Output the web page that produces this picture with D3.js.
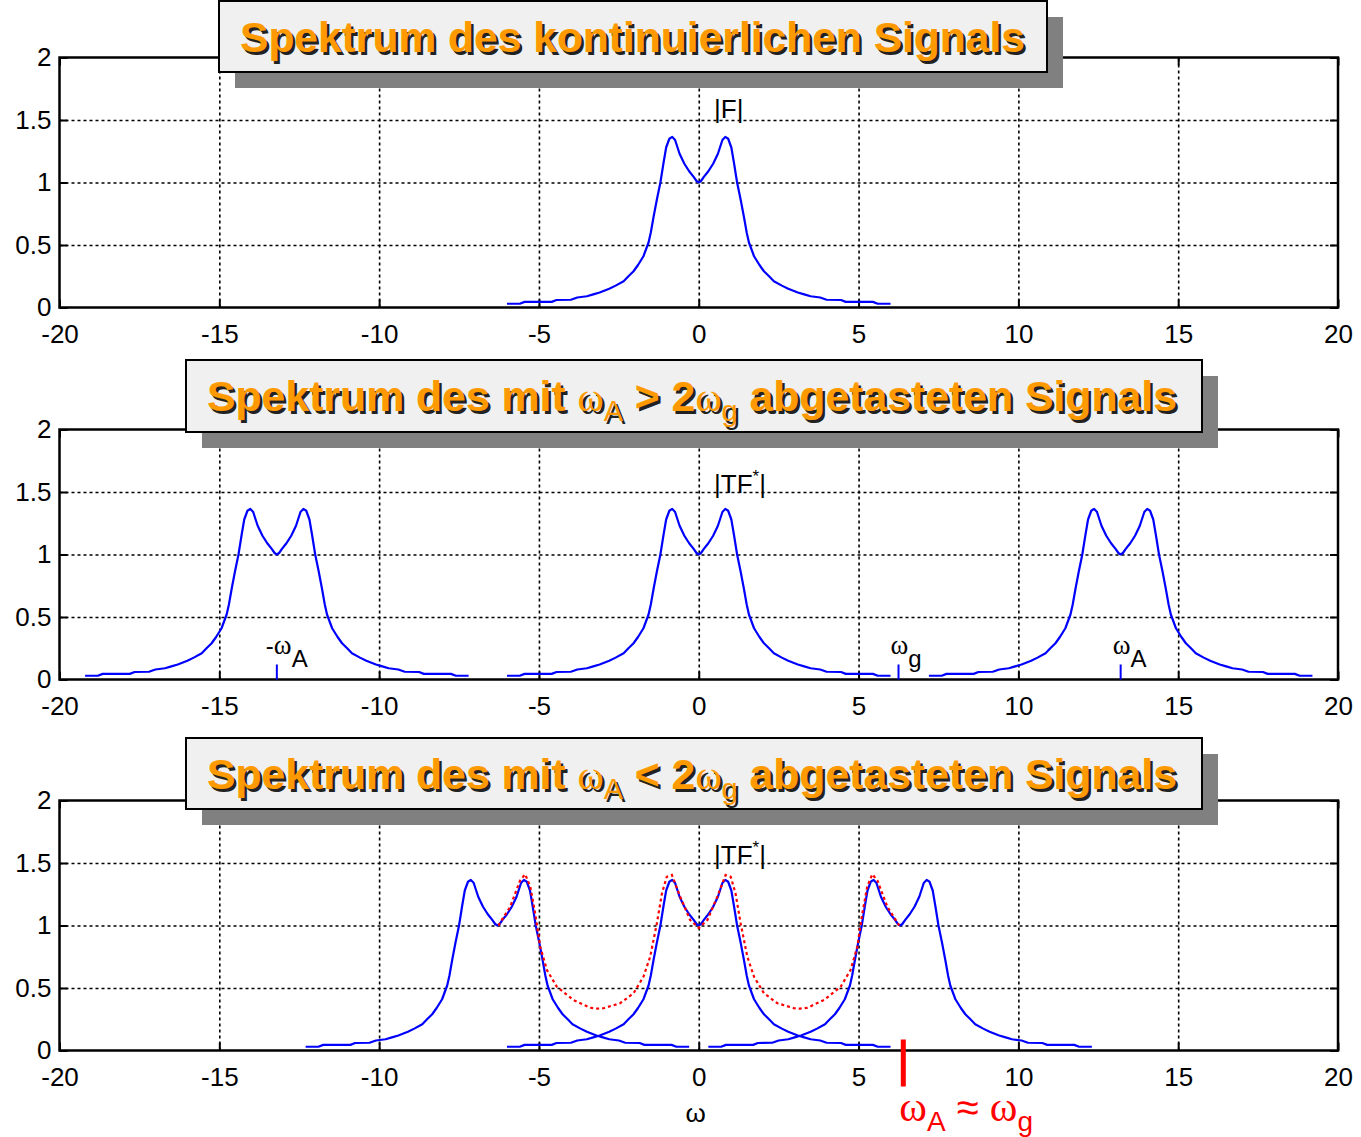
<!DOCTYPE html>
<html>
<head>
<meta charset="utf-8">
<script src="https://cdn.jsdelivr.net/npm/d3@7"></script>
<style>
  body { margin: 0; background: #fff; }
  svg { display: block; }
  text { font-family: "Liberation Sans", Arial, sans-serif; }
</style>
</head>
<body>
<svg id="chart" width="1361" height="1137"></svg>
<script>
// base spectrum |F(w)|
const baseW = [-6.0, -5.6, -5.45, -4.6, -4.45, -4.0, -3.8, -3.5, -3.3, -3.1, -2.8, -2.6, -2.35, -2.2, -2.04, -1.9, -1.73, -1.57, -1.5, -1.41, -1.31, -1.2, -1.1, -1.02, -0.92, -0.83, -0.74, -0.6, -0.45, -0.3, -0.16, -0.07, 0,
               0.07, 0.16, 0.3, 0.45, 0.6, 0.74, 0.83, 0.92, 1.02, 1.1, 1.2, 1.31, 1.41, 1.5, 1.57, 1.73, 1.9, 2.04, 2.2, 2.35, 2.6, 2.8, 3.1, 3.3, 3.5, 3.8, 4.0, 4.45, 4.6, 5.45, 5.6, 6.0];
const baseF = [0.03, 0.03, 0.045, 0.045, 0.06, 0.062, 0.08, 0.09, 0.105, 0.12, 0.15, 0.175, 0.21, 0.25, 0.29, 0.34, 0.41, 0.52, 0.6, 0.73, 0.864, 1.0, 1.16, 1.28, 1.35, 1.365, 1.34, 1.23, 1.15, 1.09, 1.045, 1.012, 1.0,
               1.012, 1.045, 1.09, 1.15, 1.23, 1.34, 1.365, 1.35, 1.28, 1.16, 1.0, 0.864, 0.73, 0.6, 0.52, 0.41, 0.34, 0.29, 0.25, 0.21, 0.175, 0.15, 0.12, 0.105, 0.09, 0.08, 0.062, 0.06, 0.045, 0.045, 0.03, 0.03];

// red dotted overlap curve in the bottom panel
const aliasW = [-6.27, -5.9, -5.59, -5.43, -5.27, -5.12, -4.96, -4.75, -4.44, -3.92, -3.4, -3.17, -2.98, -2.46, -2.04, -1.73, -1.52, -1.31, -1.15, -1.0, -0.84, -0.58, -0.27, 0,
                0.27, 0.58, 0.84, 1.0, 1.15, 1.31, 1.52, 1.73, 2.04, 2.46, 2.98, 3.17, 3.4, 3.92, 4.44, 4.75, 4.96, 5.12, 5.27, 5.43, 5.59, 5.9, 6.27];
const aliasF = [1.0, 1.15, 1.36, 1.41, 1.31, 1.1, 0.83, 0.644, 0.51, 0.404, 0.342, 0.335, 0.338, 0.378, 0.458, 0.59, 0.75, 1.018, 1.258, 1.39, 1.404, 1.23, 1.044, 0.98,
                1.044, 1.23, 1.404, 1.39, 1.258, 1.018, 0.75, 0.59, 0.458, 0.378, 0.338, 0.335, 0.342, 0.404, 0.51, 0.644, 0.83, 1.1, 1.31, 1.41, 1.36, 1.15, 1.0];

const xTicks = [-20, -15, -10, -5, 0, 5, 10, 15, 20];
const yTicks = [0, 0.5, 1, 1.5, 2];
const xGrid = [-15, -10, -5, 0, 5, 10, 15];
const yGrid = [0.5, 1, 1.5];

const wA2 = 13.2;   // sampling frequency, middle panel
const wG = 6.25;    // band limit
const wA3 = 6.3;    // sampling frequency, bottom panel
const wA3mark = 6.4;

const shifts2 = [-wA2, 0, wA2];
const shifts3 = [-wA3, 0, wA3];

const svg = d3.select('#chart');
const H = 250;
const x = d3.scaleLinear().domain([-20, 20]).range([59.5, 1338]);
const serif = '"Liberation Serif", "Times New Roman", serif';

const basePts = baseW.map((w, i) => [w, baseF[i]]);
const aliasPts = aliasW.map((w, i) => [w, aliasF[i]]);

function panel(top) {
  const y = d3.scaleLinear().domain([0, 2]).range([top + H, top]);
  const g = svg.append('g');

  // dotted grid
  g.append('g')
    .attr('transform', `translate(0,${top + H})`)
    .call(d3.axisBottom(x).tickValues(xGrid).tickSize(-H).tickFormat(''))
    .call(a => a.select('.domain').remove())
    .selectAll('line')
    .attr('stroke', '#000').attr('stroke-width', 1.6).attr('stroke-dasharray', '3,3');
  g.append('g')
    .attr('transform', `translate(${x(-20)},0)`)
    .call(d3.axisLeft(y).tickValues(yGrid).tickSize(-(x(20) - x(-20))).tickFormat(''))
    .call(a => a.select('.domain').remove())
    .selectAll('line')
    .attr('stroke', '#000').attr('stroke-width', 1.6).attr('stroke-dasharray', '3,3');

  // inward ticks on all four sides
  const tk = 8;
  [[d3.axisBottom(x).tickValues(xTicks), `translate(0,${top + H})`],
   [d3.axisTop(x).tickValues(xTicks), `translate(0,${top})`],
   [d3.axisLeft(y).tickValues(yTicks), `translate(${x(-20)},0)`],
   [d3.axisRight(y).tickValues(yTicks), `translate(${x(20)},0)`]].forEach(([ax, tr]) => {
    g.append('g').attr('transform', tr)
      .call(ax.tickSize(-tk).tickFormat(''))
      .call(a => a.select('.domain').remove())
      .selectAll('line').attr('stroke', '#000').attr('stroke-width', 2);
  });

  // tick labels
  g.append('g')
    .attr('transform', `translate(0,${top + H})`)
    .call(d3.axisBottom(x).tickValues(xTicks).tickSize(0).tickPadding(17).tickFormat(d => String(d)))
    .call(a => a.select('.domain').remove())
    .selectAll('text')
    .attr('font-size', 26).attr('font-family', '"Liberation Sans", Arial, sans-serif').attr('fill', '#000');
  g.append('g')
    .attr('transform', `translate(${x(-20) - 8},0)`)
    .call(d3.axisLeft(y).tickValues(yTicks).tickSize(0).tickPadding(0).tickFormat(d => String(d)))
    .call(a => a.select('.domain').remove())
    .selectAll('text')
    .attr('font-size', 26).attr('font-family', '"Liberation Sans", Arial, sans-serif').attr('fill', '#000');

  // frame
  g.append('rect')
    .attr('x', x(-20)).attr('y', top)
    .attr('width', x(20) - x(-20)).attr('height', H)
    .attr('fill', 'none').attr('stroke', '#000').attr('stroke-width', 2.5);

  return { g, y };
}

function spectrum(p, shift) {
  const line = d3.line().x(d => x(d[0] + shift)).y(d => p.y(d[1]));
  p.g.append('path')
    .datum(basePts)
    .attr('d', line)
    .attr('fill', 'none').attr('stroke', '#0000ff').attr('stroke-width', 2.2)
    .attr('stroke-linejoin', 'round');
}

function titleBox(x0, y0, w, h, parts, textX, textLen) {
  svg.append('rect').attr('x', x0 + 16).attr('y', y0 + 16).attr('width', w).attr('height', h).attr('fill', '#808080');
  svg.append('rect').attr('x', x0).attr('y', y0).attr('width', w).attr('height', h)
    .attr('fill', '#f0f0f0').attr('stroke', '#000').attr('stroke-width', 2);
  [['#222', 2.5], ['#ff9900', 0]].forEach(([col, off]) => {
    const t = svg.append('text')
      .attr('x', textX + off).attr('y', y0 + 51 + off)
      .attr('fill', col).attr('font-size', 43).attr('font-weight', 'bold')
      .attr('textLength', textLen).attr('lengthAdjust', 'spacingAndGlyphs');
    parts.forEach(pt => {
      const s = t.append('tspan').text(pt.t);
      if (pt.greek) s.attr('font-family', serif).attr('font-weight', 'normal').attr('font-size', 40);
      if (pt.sub) s.attr('font-weight', 'normal').attr('font-size', 29).attr('dy', 10);
      if (pt.up) s.attr('dy', -10);
    });
  });
}

function omegaLabel(g, px, py, sign, sub, col) {
  const t = g.append('text').attr('x', px).attr('y', py).attr('fill', col).attr('font-size', 24);
  if (sign) t.append('tspan').text(sign);
  t.append('tspan').text('ω').attr('font-family', serif).attr('font-size', 27);
  t.append('tspan').text(sub).attr('dy', 13);
  return t;
}

function tfLabel(g, py) {
  const t = g.append('text').attr('x', x(0.48)).attr('y', py).attr('font-size', 26);
  t.append('tspan').text('|TF');
  t.append('tspan').text('*').attr('font-size', 17).attr('dy', -11);
  t.append('tspan').text('|').attr('dy', 11);
}

// ---------- panel 1 ----------
const p1 = panel(57.5);
spectrum(p1, 0);
p1.g.append('text').attr('x', x(0.48)).attr('y', 118).attr('font-size', 26).text('|F|');

// ---------- panel 2 ----------
const p2 = panel(429.5);
shifts2.forEach(s => spectrum(p2, s));
tfLabel(p2.g, 493);
[-wA2, wG, wA2].forEach(w => {
  p2.g.append('line')
    .attr('x1', x(w)).attr('x2', x(w))
    .attr('y1', p2.y(0)).attr('y2', p2.y(0) - 15)
    .attr('stroke', '#0000ff').attr('stroke-width', 2);
});
omegaLabel(p2.g, x(-wA2) - 11, 654, '-', 'A', '#000');
omegaLabel(p2.g, x(wG) - 8, 654, '', 'g', '#000');
omegaLabel(p2.g, x(wA2) - 8, 654, '', 'A', '#000');

// ---------- panel 3 ----------
const p3 = panel(800.5);
shifts3.forEach(s => spectrum(p3, s));
p3.g.append('path')
  .datum(aliasPts)
  .attr('d', d3.line().x(d => x(d[0])).y(d => p3.y(d[1])))
  .attr('fill', 'none').attr('stroke', '#ff0000').attr('stroke-width', 2.2)
  .attr('stroke-dasharray', '3,3');
tfLabel(p3.g, 864);

p3.g.append('line')
  .attr('x1', x(wA3mark)).attr('x2', x(wA3mark))
  .attr('y1', p3.y(0) - 11).attr('y2', p3.y(0) + 36)
  .attr('stroke', '#ff0000').attr('stroke-width', 5);

const rl = p3.g.append('text').attr('x', x(wA3mark) - 4).attr('y', 1121).attr('fill', '#ff0000').attr('font-size', 40);
rl.append('tspan').text('ω').attr('font-family', serif).attr('font-size', 42);
rl.append('tspan').text('A').attr('font-size', 28).attr('dy', 10);
rl.append('tspan').text(' ≈ ').attr('dy', -10).attr('font-size', 40);
rl.append('tspan').text('ω').attr('font-family', serif).attr('font-size', 42);
rl.append('tspan').text('g').attr('font-size', 28).attr('dy', 10);

svg.append('text').attr('x', x(0) - 3).attr('y', 1122).attr('text-anchor', 'middle')
  .attr('font-size', 26).attr('font-family', serif).text('ω');

// ---------- title boxes ----------
titleBox(219, 1, 828, 71, [{ t: 'Spektrum des kontinuierlichen Signals' }], 240, 785);
titleBox(186, 360, 1016, 72, [
  { t: 'Spektrum des mit ' }, { t: 'ω', greek: true }, { t: 'A', sub: true },
  { t: ' > 2', up: true }, { t: 'ω', greek: true }, { t: 'g', sub: true },
  { t: ' abgetasteten Signals', up: true }], 207, 970);
titleBox(186, 738, 1016, 71, [
  { t: 'Spektrum des mit ' }, { t: 'ω', greek: true }, { t: 'A', sub: true },
  { t: ' < 2', up: true }, { t: 'ω', greek: true }, { t: 'g', sub: true },
  { t: ' abgetasteten Signals', up: true }], 207, 970);
</script>
</body>
</html>
